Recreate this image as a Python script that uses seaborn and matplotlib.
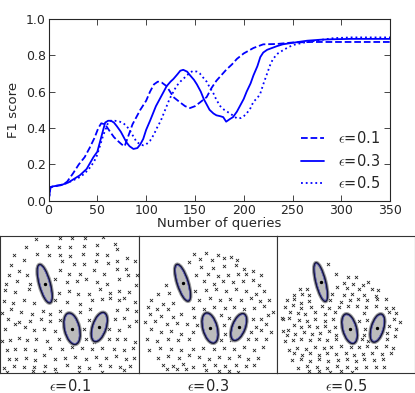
import matplotlib
matplotlib.use("Agg")
import matplotlib.pyplot as plt
import matplotlib.patheffects as pe
from matplotlib.patches import Ellipse
import seaborn as sns
import pandas as pd

# ---------------------------------------------------------
# DATA: F1 score vs number of queries
# ---------------------------------------------------------
eps_labels = ["$\\epsilon$=0.1", "$\\epsilon$=0.3", "$\\epsilon$=0.5"]

q_01 = [0, 2, 5, 10, 15, 19, 25, 31, 37, 42, 47, 51, 54, 58, 63, 67, 70, 75, 78, 81,
        86, 90, 94, 100, 104, 108, 112, 116, 121, 128, 135, 140, 145, 150, 155, 162,
        167, 172, 177, 182, 188, 193, 200, 210, 220, 234, 250, 270, 300, 350]
f1_01 = [0, 0.075, 0.08, 0.085, 0.09, 0.105, 0.15, 0.2, 0.24, 0.29, 0.345, 0.40, 0.426,
         0.42, 0.38, 0.35, 0.334, 0.31, 0.30, 0.345, 0.42, 0.46, 0.50, 0.55, 0.60, 0.64,
         0.655, 0.65, 0.63, 0.57, 0.54, 0.52, 0.51, 0.52, 0.54, 0.57, 0.62, 0.66, 0.69,
         0.72, 0.75, 0.78, 0.81, 0.84, 0.86, 0.862, 0.87, 0.873, 0.873, 0.873]

q_03 = [0, 2, 5, 12, 20, 26, 32, 39, 46, 50, 53, 56, 58, 61, 64, 67, 70, 74, 77, 80,
        83, 87, 91, 94, 97, 100, 104, 107, 110, 114, 118, 121, 125, 128, 132, 135, 138,
        142, 145, 149, 152, 156, 159, 162, 165, 169, 172, 176, 179, 182, 186, 189, 193,
        196, 200, 203, 207, 210, 214, 217, 220, 224, 229, 234, 240, 247, 256, 265, 280,
        292, 310, 350]
f1_03 = [0, 0.075, 0.08, 0.085, 0.1, 0.12, 0.14, 0.175, 0.24, 0.27, 0.33, 0.39, 0.43,
         0.44, 0.44, 0.43, 0.41, 0.38, 0.35, 0.32, 0.30, 0.285, 0.29, 0.31, 0.34, 0.39,
         0.44, 0.48, 0.52, 0.56, 0.60, 0.63, 0.655, 0.67, 0.695, 0.715, 0.72, 0.71, 0.69,
         0.665, 0.64, 0.60, 0.56, 0.53, 0.50, 0.48, 0.47, 0.465, 0.46, 0.435, 0.45, 0.46,
         0.49, 0.52, 0.56, 0.60, 0.645, 0.69, 0.74, 0.79, 0.815, 0.83, 0.84, 0.85, 0.86,
         0.866, 0.873, 0.88, 0.886, 0.888, 0.89, 0.89]

q_05 = [0, 2, 5, 12, 20, 26, 32, 37, 42, 46, 49, 52, 56, 59, 61, 64, 68, 73, 77, 80,
        83, 85, 88, 90, 94, 97, 100, 104, 108, 111, 115, 118, 121, 124, 128, 131, 135,
        138, 142, 145, 148, 152, 155, 158, 162, 165, 169, 172, 176, 180, 186, 190, 193,
        197, 200, 203, 207, 210, 214, 217, 220, 224, 227, 230, 235, 241, 246, 251, 260,
        268, 280, 292, 310, 350]
f1_05 = [0, 0.075, 0.08, 0.085, 0.1, 0.115, 0.13, 0.15, 0.18, 0.21, 0.24, 0.29, 0.36,
         0.40, 0.43, 0.44, 0.44, 0.435, 0.425, 0.41, 0.39, 0.37, 0.345, 0.325, 0.31,
         0.305, 0.31, 0.33, 0.365, 0.40, 0.44, 0.48, 0.52, 0.56, 0.60, 0.63, 0.655, 0.67,
         0.69, 0.705, 0.714, 0.71, 0.70, 0.68, 0.655, 0.625, 0.59, 0.555, 0.52, 0.50,
         0.48, 0.465, 0.453, 0.455, 0.465, 0.48, 0.51, 0.545, 0.565, 0.59, 0.64, 0.70,
         0.745, 0.78, 0.81, 0.83, 0.845, 0.857, 0.868, 0.875, 0.885, 0.894, 0.898, 0.898]

# ---------------------------------------------------------
# DATA: query points in each snapshot (panel pixel units, y downwards)
# ---------------------------------------------------------
pts1_x = [108, 180, 215, 255, 308,
          78, 140, 175, 210, 250, 290, 345,
          42, 110, 145, 178, 210, 248, 290, 320, 350,
          32, 70, 185, 220, 250, 288, 322, 350, 380, 405,
          25, 55, 80, 180, 205, 240, 282, 312, 350, 378,
          18, 50, 88, 165, 200, 230, 258, 290, 320, 355, 382, 410,
          15, 45, 85, 175, 205, 232, 265, 300, 330, 355, 385, 408,
          12, 38, 72, 102, 165, 200, 240, 275, 305, 330, 355, 372, 405,
          5, 32, 62, 95, 128, 150, 180, 240, 268, 350, 380, 408,
          22, 55, 90, 122, 150, 178, 265, 345, 372, 408,
          15, 45, 75, 100, 130, 165, 250, 325, 355, 385,
          5, 28, 55, 80, 108, 140, 175, 258, 280, 325, 350, 375, 405,
          20, 45, 75, 105, 150, 185, 215, 245, 275, 305, 340, 370, 398,
          25, 48, 78, 105, 130, 165, 195, 225, 258, 288, 318, 348, 378, 402,
          12, 42, 72, 100, 135, 165, 200, 235, 265, 300, 330, 360, 390,
          20, 98, 130, 168, 235, 305, 370]
pts1_y = [22, 18, 18, 18, 15,
          45, 42, 45, 45, 42, 40, 35,
          68, 65, 68, 68, 72, 65, 65, 68, 52,
          98, 85, 88, 95, 95, 88, 92, 88, 78, 88,
          128, 118, 130, 115, 125, 125, 115, 125, 112, 112,
          155, 148, 155, 140, 150, 148, 140, 150, 155, 140, 130, 128,
          175, 180, 172, 182, 178, 185, 185, 172, 182, 178, 180, 158,
          208, 212, 205, 212, 205, 210, 215, 205, 200, 198, 205, 198, 210,
          242, 232, 240, 245, 238, 245, 238, 240, 232, 235, 232, 238,
          260, 270, 268, 262, 268, 265, 265, 262, 258, 268,
          290, 275, 285, 295, 290, 298, 290, 290, 295, 282,
          328, 325, 318, 325, 322, 328, 320, 322, 330, 322, 320, 322, 330,
          355, 352, 350, 355, 348, 352, 345, 348, 352, 348, 352, 355, 348,
          382, 380, 378, 385, 370, 380, 378, 375, 382, 375, 378, 372, 382, 378,
          408, 402, 405, 405, 402, 410, 398, 405, 408, 398, 402, 405, 402,
          420, 418, 420, 422, 420, 420, 415]

pts2_x = [168, 205, 240, 280,
          155, 188, 222, 258, 298,
          190, 225, 260, 295, 320, 345,
          175, 210, 240, 270, 300, 325, 370,
          85, 200, 228, 255, 285, 315, 345, 365,
          62, 95, 172, 205, 235, 265, 295, 325, 355, 380,
          40, 75, 105, 185, 218, 248, 278, 310, 340, 368, 395,
          30, 58, 90, 165, 198, 230, 262, 290, 320, 350, 380, 405,
          38, 70, 105, 130, 170, 250, 275, 345, 370, 390,
          22, 52, 88, 118, 148, 178, 258, 355, 385,
          40, 70, 100, 130, 165, 262, 340, 370, 400,
          28, 58, 90, 122, 155, 250, 280, 330, 355, 385,
          35, 68, 100, 130, 165, 195, 228, 258, 290, 320, 348, 375,
          60, 90, 125, 155, 185, 215, 245, 275, 305, 330, 360,
          75, 105, 135, 165, 200, 232, 262, 295, 325, 350,
          88, 118, 145, 205, 245, 275, 300]
pts2_y = [65, 62, 68, 75,
          90, 82, 85, 78, 85,
          105, 108, 102, 100, 112, 118,
          128, 125, 132, 128, 125, 125, 128,
          160, 148, 155, 148, 150, 148, 145, 160,
          185, 182, 178, 175, 170, 178, 172, 178, 185, 178,
          205, 215, 212, 205, 198, 205, 200, 205, 198, 208, 205,
          225, 230, 232, 228, 232, 225, 228, 225, 230, 228, 222, 240,
          245, 252, 255, 245, 255, 250, 258, 260, 262, 248,
          270, 268, 275, 272, 275, 280, 280, 285, 275,
          292, 300, 298, 305, 300, 305, 300, 295, 300,
          322, 328, 322, 325, 320, 325, 325, 322, 322, 320,
          355, 348, 352, 355, 350, 348, 352, 348, 350, 345, 355, 345,
          378, 372, 378, 370, 375, 380, 375, 378, 372, 380, 378,
          398, 402, 395, 405, 398, 400, 402, 398, 402, 398,
          410, 412, 410, 415, 418, 418, 420]

pts3_x = [158, 182, 218, 242,
          205, 232, 262, 278,
          75, 95, 185, 215, 250, 290, 308,
          55, 80, 100, 170, 205, 230, 265, 300,
          35, 55, 78, 100, 165, 195, 222, 248, 275, 305, 330,
          28, 52, 78, 108, 140, 160, 190, 218, 245, 270, 300, 330, 350,
          20, 45, 68, 90, 118, 148, 178, 265, 340, 360,
          22, 42, 70, 95, 120, 148, 172, 250, 275, 355, 372,
          22, 38, 55, 78, 100, 125, 150, 178, 268, 340, 360,
          35, 60, 85, 110, 135, 160, 182, 265, 335, 358,
          28, 52, 78, 105, 130, 155, 180, 258, 278, 335,
          40, 65, 92, 118, 145, 168, 195, 225, 250, 275, 300, 330, 352,
          55, 80, 105, 130, 155, 182, 210, 235, 262, 290, 318, 345,
          50, 78, 105, 130, 158, 188, 215, 240, 265, 295, 322,
          68, 95, 125, 155, 185, 215, 240, 270, 300, 325,
          100, 130, 165, 195, 228]
pts3_y = [95, 125, 135, 135,
          152, 155, 158, 150,
          170, 170, 165, 168, 172, 172, 175,
          188, 185, 190, 185, 188, 185, 190, 192,
          205, 202, 212, 208, 205, 210, 205, 202, 205, 202, 200,
          225, 220, 228, 225, 222, 228, 225, 222, 222, 225, 222, 228, 228,
          258, 240, 242, 245, 240, 245, 240, 242, 240, 242,
          262, 258, 265, 268, 262, 268, 262, 268, 265, 262, 270,
          298, 295, 280, 285, 282, 285, 282, 285, 290, 282, 290,
          308, 305, 300, 305, 302, 298, 308, 310, 302, 312,
          328, 325, 322, 325, 320, 325, 322, 322, 328, 322,
          355, 348, 352, 345, 348, 345, 342, 345, 345, 342, 345, 342, 348,
          362, 368, 362, 368, 362, 365, 362, 368, 365, 362, 365, 362,
          385, 382, 388, 382, 388, 385, 382, 388, 382, 385, 382,
          408, 402, 405, 408, 402, 405, 408, 405, 405, 405,
          418, 418, 420, 418, 420]

# fitted regions: center x, center y, length, width, angle (deg)
ell1 = [(133, 155, 118, 32, 74.7), (215, 290, 95, 44, 77), (297, 285, 90, 40, 108)]
ell2 = [(135, 152, 114, 32, 72.4), (217, 288, 92, 42, 75), (303, 285, 84, 38, 111)]
ell3 = [(136, 150, 118, 28, 76), (222, 290, 90, 40, 75), (305, 288, 86, 36, 106)]

panels = [(pts1_x, pts1_y, ell1, (0, 415)),
          (pts2_x, pts2_y, ell2, (3, 417)),
          (pts3_x, pts3_y, ell3, (5, 417))]

# ---------------------------------------------------------
# PLOTTING
# ---------------------------------------------------------
sns.set_style("ticks", {"xtick.direction": "in", "ytick.direction": "in"})
plt.rcParams["font.family"] = ["DejaVu Sans"]
plt.rcParams["mathtext.fontset"] = "cm"

fig = plt.figure(figsize=(4.15, 3.93), dpi=100)

# --- F1 curves ---
ax = fig.add_axes([0.117, 0.489, 0.823, 0.463])
curves = pd.concat([
    pd.DataFrame({"queries": q_01, "f1": f1_01, "eps": eps_labels[0]}),
    pd.DataFrame({"queries": q_03, "f1": f1_03, "eps": eps_labels[1]}),
    pd.DataFrame({"queries": q_05, "f1": f1_05, "eps": eps_labels[2]}),
])
styles = ["--", "-", ":"]
for lab, ls in zip(eps_labels, styles):
    sub = curves[curves["eps"] == lab]
    sns.lineplot(data=sub, x="queries", y="f1", ax=ax, color="#0000ff",
                 linestyle=ls, linewidth=1.3, label=lab)

ax.set_xlim(0, 350)
ax.set_ylim(0, 1.0)
ax.set_xticks([0, 50, 100, 150, 200, 250, 300, 350])
ax.set_yticks([0.0, 0.2, 0.4, 0.6, 0.8, 1.0])
ax.set_yticklabels(["0.0", "0.2", "0.4", "0.6", "0.8", "1.0"])
ax.tick_params(top=True, right=True, direction="in", labelsize=9, length=4,
               width=0.6, pad=2)
for s in ax.spines.values():
    s.set_linewidth(0.8)
ax.set_xlabel("Number of queries", fontsize=9.5, labelpad=0)
ax.set_ylabel("F1 score", fontsize=9.5, labelpad=4)
ax.legend(loc="lower right", frameon=False, fontsize=10.5, handlelength=1.6,
          handletextpad=1.0, labelspacing=0.45, borderaxespad=0.25)

# --- snapshots ---
w = 0.333
for i, (px, py, ells, xl) in enumerate(panels):
    axp = fig.add_axes([0.001 + i * w, 0.050, w, 0.350])
    for cx, cy, ln, wd, ang in ells:
        axp.add_patch(Ellipse((cx, cy), ln, wd, angle=ang, facecolor="#bcbcbc",
                              edgecolor="#14143a", linewidth=1.4, zorder=3,
                              path_effects=[pe.Stroke(linewidth=3.0, foreground="#9a9a9a"),
                                            pe.Normal()]))
        axp.add_patch(Ellipse((cx, cy), ln - 5, wd - 5, angle=ang, facecolor="none",
                              edgecolor="#6a6acc", linewidth=0.5, zorder=4))
        axp.scatter([cx], [cy], s=2, color="black", zorder=5)
    sns.scatterplot(x=px, y=py, ax=axp, marker="x", s=5, color="#1a1a1a",
                    linewidth=0.55, zorder=2)
    axp.set_xlim(*xl)
    axp.set_ylim(424, 11)
    axp.set_xticks([])
    axp.set_yticks([])
    for s in axp.spines.values():
        s.set_linewidth(0.8)
        s.set_color("#333333")
    axp.set_xlabel(eps_labels[i], fontsize=10.5, labelpad=3)

plt.savefig("out.png", dpi=100)
